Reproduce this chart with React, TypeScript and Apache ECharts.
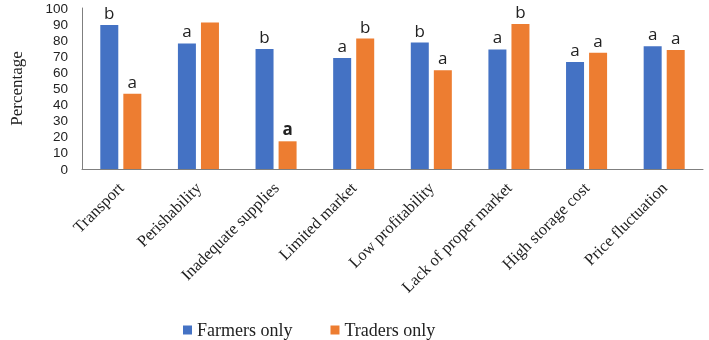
import React, { useEffect, useRef } from "react";
import * as echarts from "echarts";

const categories = [
  "Transport",
  "Perishability",
  "Inadequate supplies",
  "Limited market",
  "Low profitability",
  "Lack of proper market",
  "High storage cost",
  "Price fluctuation",
];
const farmersValues = [89.5, 78, 74.5, 69, 78.5, 74.3, 66.5, 76.3];
const tradersValues = [46.8, 91, 17.2, 81, 61.3, 90, 72.2, 73.9];
const farmersLetters = ["b", "a", "b", "a", "b", "a", "a", "a"];
const tradersLetters = ["a", "", "a", "b", "a", "b", "a", "a"];
const tradersBold = [false, false, true, false, false, false, false, false];
const yTicks = [0, 10, 20, 30, 40, 50, 60, 70, 80, 90, 100];

export default function App() {
  const ref = useRef<HTMLDivElement>(null);
  useEffect(() => {
    if (!ref.current) return;
    const chart = echarts.init(ref.current, null, { renderer: "svg" });
    const serif = "Liberation Serif";
    const sans = "Open Sans";
    chart.setOption({
      animation: false,
      grid: { left: 73, right: 6, top: 8, bottom: 171, containLabel: false },
      legend: {
        top: 321,
        left: 183,
        padding: 0,
        itemWidth: 9,
        itemHeight: 9,
        itemGap: 38,
        icon: "rect",
        textStyle: { fontFamily: serif, fontSize: 18, lineHeight: 18, color: "#222" },
        data: ["Farmers only", "Traders only"],
      },
      xAxis: {
        type: "category",
        data: categories,
        axisLine: { show: true, lineStyle: { color: "#7f7f7f", width: 1 } },
        axisTick: { show: false },
        axisLabel: {
          rotate: 45,
          interval: 0,
          margin: 16,
          fontFamily: serif,
          fontSize: 16.5,
          color: "#222",
        },
      },
      yAxis: {
        type: "value",
        min: yTicks[0],
        max: yTicks[yTicks.length - 1],
        interval: 10,
        name: "Percentage",
        nameLocation: "middle",
        nameGap: 57,
        nameTextStyle: { fontFamily: serif, fontSize: 17, color: "#222" },
        axisLine: { show: true, lineStyle: { color: "#7f7f7f", width: 1 } },
        axisTick: { show: false },
        splitLine: { show: false },
        axisLabel: {
          margin: 14,
          fontFamily: "Liberation Sans",
          fontSize: 13.5,
          lineHeight: 14,
          color: "#222",
          showMinLabel: true,
          showMaxLabel: true,
          hideOverlap: false,
        },
      },
      series: [
        {
          name: "Farmers only",
          type: "bar",
          barWidth: 18,
          barGap: "28%",
          itemStyle: { color: "#4472C4" },
          data: farmersValues,
          label: {
            show: true,
            position: "top",
            distance: 4,
            fontFamily: sans,
            fontSize: 17,
            color: "#222",
            formatter: (p: any) => farmersLetters[p.dataIndex],
          },
        },
        {
          name: "Traders only",
          type: "bar",
          barWidth: 18,
          itemStyle: { color: "#ED7D31" },
          data: tradersValues.map((v, i) => ({
            value: v,
            label: { fontWeight: tradersBold[i] ? "bold" : "normal" },
          })),
          label: {
            show: true,
            position: "top",
            distance: 4,
            fontFamily: sans,
            fontSize: 17,
            color: "#222",
            formatter: (p: any) => tradersLetters[p.dataIndex],
          },
        },
      ],
    });
    return () => chart.dispose();
  }, []);
  return (
    <div
      ref={ref}
      style={{ position: "fixed", left: 0, top: 0, width: 709, height: 340 }}
    />
  );
}
